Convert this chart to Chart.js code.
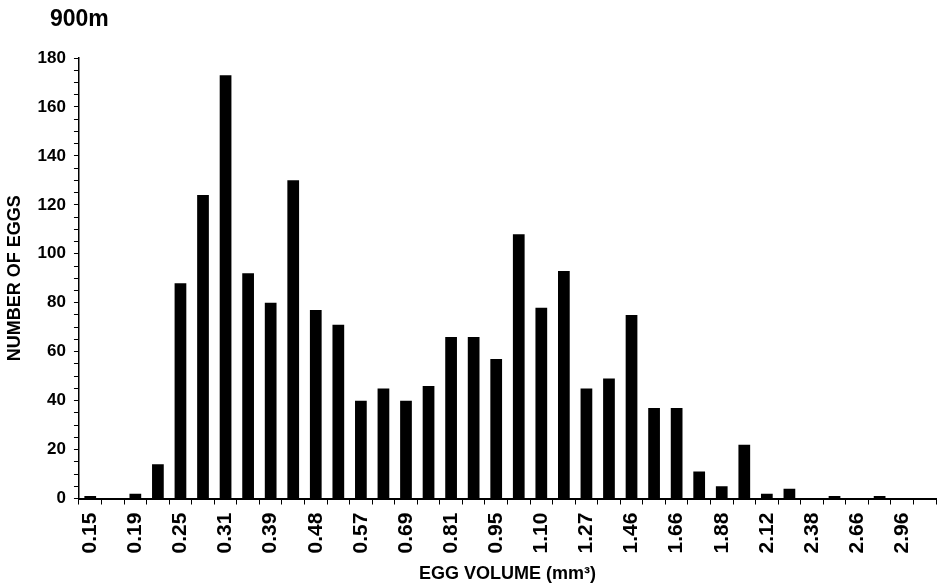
<!DOCTYPE html>
<html>
<head>
<meta charset="utf-8">
<script src="https://cdn.jsdelivr.net/npm/chart.js@4"></script>
<style>
    html, body { margin: 0; padding: 0; background: #fff; }
    #wrap { position: relative; width: 945px; height: 585px; }
    #title {
        position: absolute; left: 50px; top: 5px;
        font: bold 23px "Liberation Sans", Arial, sans-serif; color: #000;
    }
</style>
</head>
<body>
<div id="wrap">
    <div id="title">900m</div>
    <canvas id="chart" width="945" height="585"></canvas>
</div>
<script>
// egg volume classes (mm3) - only every other class is labelled on the axis
const tickLabels = ['0.15', '0.19', '0.25', '0.31', '0.39', '0.48', '0.57', '0.69', '0.81', '0.95',
    '1.10', '1.27', '1.46', '1.66', '1.88', '2.12', '2.38', '2.66', '2.96'];

// number of eggs in each class (38 classes)
const eggCounts = [1, 0, 2, 14, 88, 124, 173, 92, 80, 130,
    77, 71, 40, 45, 40, 46, 66, 66, 57, 108,
    78, 93, 45, 49, 75, 37, 37, 11, 5, 22,
    2, 4, 0, 1, 0, 1, 0, 0];

const yTicks = { min: 0, max: 180, major: 20, minor: 5 };

// interleave labelled classes with unlabelled ones
const categories = eggCounts.map((v, i) => (i % 2 === 0 ? (tickLabels[i / 2] || '') : ''));

const FONT = '"Liberation Sans", Arial, sans-serif';

const chart = new Chart(document.getElementById('chart').getContext('2d'), {
    type: 'bar',
    data: {
        labels: categories,
        datasets: [{
            label: 'Number of eggs',
            data: eggCounts,
            backgroundColor: '#000',
            borderWidth: 0,
            barPercentage: 0.52,
            categoryPercentage: 1
        }]
    },
    options: {
        responsive: false,
        animation: false,
        layout: { padding: { top: 58, right: 9, left: 4, bottom: 0 } },
        plugins: {
            legend: { display: false },
            tooltip: { enabled: false }
        },
        scales: {
            x: {
                // last class has no label, so don't reserve room for it
                afterFit: (scale) => { scale.paddingRight = 0; },
                border: { color: '#000', width: 2 },
                grid: { drawOnChartArea: false, color: '#000', tickLength: 6, offset: true },
                ticks: {
                    color: '#000',
                    autoSkip: false,
                    minRotation: 90,
                    maxRotation: 90,
                    padding: 8,
                    font: { family: '"Liberation Sans Narrow", ' + FONT, size: 21, weight: 'bold' }
                },
                title: {
                    display: true,
                    text: 'EGG VOLUME (mm³)',
                    color: '#000',
                    padding: { top: 2, bottom: 0 },
                    font: { family: FONT, size: 18, weight: 'bold' }
                }
            },
            y: {
                min: yTicks.min,
                max: yTicks.max,
                border: { color: '#000', width: 1.5 },
                grid: { drawOnChartArea: false, color: '#000', tickLength: 5 },
                ticks: {
                    stepSize: yTicks.minor,
                    autoSkip: false,
                    maxTicksLimit: 100,
                    color: '#000',
                    padding: 8,
                    font: { family: FONT, size: 17, weight: 'bold' },
                    callback: (v) => (v % yTicks.major === 0 ? v : '')
                },
                title: {
                    display: true,
                    text: 'NUMBER OF EGGS',
                    color: '#000',
                    padding: { top: 0, bottom: 4 },
                    font: { family: FONT, size: 18, weight: 'bold' }
                }
            }
        }
    }
});
</script>
</body>
</html>
